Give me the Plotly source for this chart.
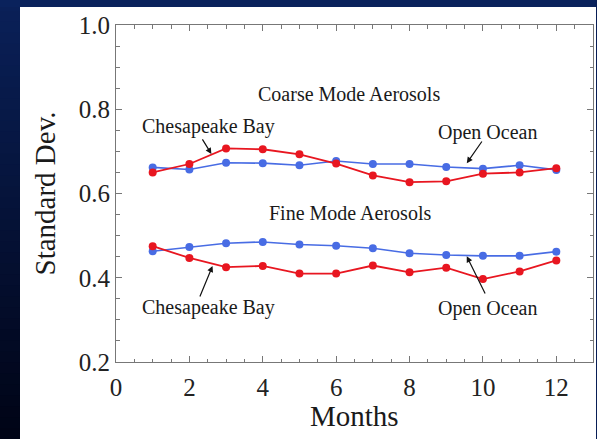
import plotly.graph_objects as go

# Monthly standard deviation of aerosol optical properties
months = list(range(1, 13))

coarse_open_ocean = [0.662, 0.657, 0.673, 0.672, 0.667, 0.677, 0.670, 0.670, 0.663, 0.659, 0.667, 0.656]
coarse_chesapeake = [0.650, 0.670, 0.707, 0.705, 0.693, 0.671, 0.643, 0.627, 0.629, 0.647, 0.650, 0.660]
fine_open_ocean = [0.463, 0.473, 0.482, 0.485, 0.479, 0.476, 0.470, 0.458, 0.454, 0.452, 0.452, 0.462]
fine_chesapeake = [0.475, 0.447, 0.425, 0.428, 0.410, 0.410, 0.429, 0.413, 0.424, 0.397, 0.415, 0.441]

x_tick_vals = [0, 2, 4, 6, 8, 10, 12]
y_tick_vals = [0.2, 0.4, 0.6, 0.8, 1.0]

RED = "rgb(232,22,32)"
BLUE = "rgb(72,108,228)"
FONT = "Liberation Serif"
W, H = 597, 439
ML, MR, MT, MB = 116, 4, 25, 77
PW, PH = W - ML - MR, H - MT - MB


def px_x(px):
    return (px - ML) / PW


def px_y(py):
    return (H - MB - py) / PH


fig = go.Figure()

series = [
    (coarse_open_ocean, BLUE, 1.6),
    (fine_open_ocean, BLUE, 1.6),
    (coarse_chesapeake, RED, 1.8),
    (fine_chesapeake, RED, 1.8),
]
for vals, col, lw in series:
    fig.add_trace(go.Scatter(
        x=months, y=vals, mode="lines+markers",
        line=dict(color=col, width=lw),
        marker=dict(color=col, size=8),
        showlegend=False, hoverinfo="skip",
    ))

# dark slide background around the white panel
shapes = []
n_bands = 40
top_c = (10, 32, 88)
bot_c = (0, 4, 22)
for i in range(n_bands):
    t = i / (n_bands - 1)
    c = tuple(round(top_c[k] + (bot_c[k] - top_c[k]) * t) for k in range(3))
    y0 = H * i / n_bands
    y1 = H * (i + 1) / n_bands + 1.5
    shapes.append(dict(type="rect", xref="paper", yref="paper",
                       x0=px_x(-2), x1=px_x(20), y0=px_y(y1), y1=px_y(y0),
                       fillcolor="rgb(%d,%d,%d)" % c, line=dict(width=0), layer="below"))
shapes.append(dict(type="rect", xref="paper", yref="paper",
                   x0=px_x(-2), x1=px_x(W + 2), y0=px_y(7), y1=px_y(-2),
                   fillcolor="rgb(10,34,92)", line=dict(width=0), layer="below"))
shapes.append(dict(type="rect", xref="paper", yref="paper",
                   x0=px_x(596), x1=px_x(W + 2), y0=px_y(H + 2), y1=px_y(0),
                   fillcolor="rgb(8,30,86)", line=dict(width=0), layer="below"))

annotations = []
label_font = dict(family=FONT, size=20, color="#1a1a1a")
for txt, x, y in [
    ("Coarse Mode Aerosols", 6.35, 0.836),
    ("Fine Mode Aerosols", 6.38, 0.553),
    ("Chesapeake Bay", 2.52, 0.760),
    ("Open Ocean", 10.13, 0.746),
    ("Chesapeake Bay", 2.52, 0.330),
    ("Open Ocean", 10.13, 0.328),
]:
    annotations.append(dict(text=txt, x=x, y=y, xref="x", yref="y",
                            xanchor="center", yanchor="middle",
                            showarrow=False, font=label_font))

for hx, hy, tx, ty in [
    (2.60, 0.694, 2.33, 0.732),
    (9.56, 0.672, 10.0, 0.727),
    (2.63, 0.428, 2.27, 0.352),
    (9.56, 0.451, 10.08, 0.359),
]:
    annotations.append(dict(text="", x=hx, y=hy, ax=tx, ay=ty,
                            xref="x", yref="y", axref="x", ayref="y",
                            showarrow=True, arrowhead=2, arrowsize=1,
                            arrowwidth=1.2, arrowcolor="#111", standoff=0))

annotations.append(dict(text="Standard Dev.", x=px_x(44), y=0.5, xref="paper", yref="paper",
                        xanchor="center", yanchor="middle",
                        textangle=-90, showarrow=False,
                        font=dict(family=FONT, size=29, color="#1a1a1a")))
annotations.append(dict(text="Months", x=0.5, y=px_y(416), xref="paper", yref="paper",
                        xanchor="center", yanchor="middle",
                        showarrow=False,
                        font=dict(family=FONT, size=29, color="#1a1a1a")))

axis_common = dict(
    showgrid=False, zeroline=False, showline=True, linecolor="#777", linewidth=1,
    mirror="ticks", ticks="inside", ticklen=6, tickcolor="#777", tickwidth=1,
    tickfont=dict(family=FONT, size=25, color="#222"),
)

fig.update_layout(
    width=W, height=H,
    margin=dict(l=ML, r=MR, t=MT, b=MB),
    paper_bgcolor="white", plot_bgcolor="white",
    xaxis=dict(range=[0, 13], tickvals=x_tick_vals, ticklabelstandoff=3,
               minor=dict(dtick=0.5, tick0=0, ticks="inside", ticklen=3.5, tickcolor="#777"),
               **axis_common),
    yaxis=dict(range=[0.2, 1.0], tickvals=y_tick_vals, tickformat=".1f",
               minor=dict(dtick=0.05, tick0=0.2, ticks="inside", ticklen=3.5, tickcolor="#777"),
               **axis_common),
    shapes=shapes,
    annotations=annotations,
)

fig.write_html("out.html")
